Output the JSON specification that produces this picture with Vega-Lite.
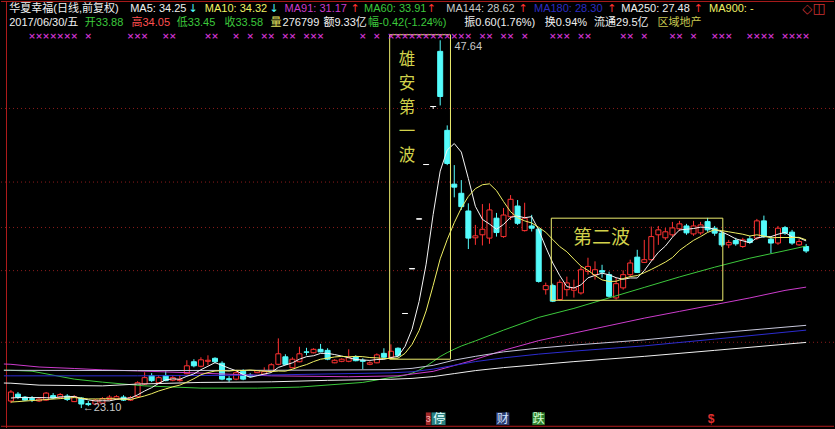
{
"$schema":"https://vega.github.io/schema/vega-lite/v6.json",
"width":835,"height":429,
"autosize":{"type":"fit","contains":"padding"},
"padding":0,
"background":"#000000",
"config":{"view":{"stroke":null}},
"data":{"values":[{}]},
"datasets":{
"k":[
{"d":0,"o":23.57,"h":24.30,"l":23.43,"c":24.17,"m5":23.77,"m10":23.50},
{"d":1,"o":24.03,"h":24.17,"l":23.70,"c":23.83,"m5":23.80,"m10":23.53},
{"d":2,"o":23.83,"h":23.90,"l":23.57,"c":23.63,"m5":23.80,"m10":23.57},
{"d":3,"o":23.73,"h":23.90,"l":23.50,"c":23.67,"m5":23.80,"m10":23.60},
{"d":4,"o":23.57,"h":23.77,"l":23.50,"c":23.70,"m5":23.80,"m10":23.63},
{"d":5,"o":23.63,"h":24.17,"l":23.57,"c":24.10,"m5":23.79,"m10":23.67},
{"d":6,"o":23.93,"h":24.10,"l":23.70,"c":23.77,"m5":23.77,"m10":23.70},
{"d":7,"o":23.80,"h":24.10,"l":23.77,"c":24.00,"m5":23.85,"m10":23.73},
{"d":8,"o":23.90,"h":24.03,"l":23.57,"c":23.67,"m5":23.85,"m10":23.77},
{"d":9,"o":23.53,"h":23.96,"l":23.50,"c":23.86,"m5":23.88,"m10":23.80},
{"d":10,"o":23.77,"h":23.83,"l":23.10,"c":23.37,"m5":23.73,"m10":23.76},
{"d":11,"o":23.40,"h":23.57,"l":23.23,"c":23.33,"m5":23.65,"m10":23.71},
{"d":12,"o":23.37,"h":23.70,"l":23.30,"c":23.63,"m5":23.57,"m10":23.71},
{"d":13,"o":23.43,"h":23.83,"l":23.37,"c":23.73,"m5":23.59,"m10":23.71},
{"d":14,"o":23.67,"h":23.96,"l":23.63,"c":23.83,"m5":23.58,"m10":23.73},
{"d":15,"o":23.70,"h":23.96,"l":23.63,"c":23.86,"m5":23.68,"m10":23.71},
{"d":16,"o":23.83,"h":23.96,"l":23.57,"c":23.63,"m5":23.74,"m10":23.69},
{"d":17,"o":23.63,"h":23.90,"l":23.57,"c":23.80,"m5":23.77,"m10":23.67},
{"d":18,"o":23.86,"h":24.89,"l":23.77,"c":24.79,"m5":23.98,"m10":23.79},
{"d":19,"o":24.70,"h":25.49,"l":24.63,"c":25.13,"m5":24.24,"m10":23.91},
{"d":20,"o":25.26,"h":25.43,"l":24.83,"c":24.93,"m5":24.46,"m10":24.06},
{"d":21,"o":24.79,"h":25.29,"l":24.76,"c":25.13,"m5":24.75,"m10":24.24},
{"d":22,"o":25.26,"h":25.56,"l":24.89,"c":24.93,"m5":24.98,"m10":24.38},
{"d":23,"o":24.96,"h":25.29,"l":24.89,"c":25.13,"m5":25.05,"m10":24.52},
{"d":24,"o":24.93,"h":25.29,"l":24.86,"c":24.99,"m5":25.02,"m10":24.63},
{"d":25,"o":25.39,"h":26.29,"l":25.36,"c":25.92,"m5":25.22,"m10":24.83},
{"d":26,"o":26.19,"h":26.36,"l":25.82,"c":25.92,"m5":25.38,"m10":25.06},
{"d":27,"o":25.89,"h":26.49,"l":25.82,"c":26.32,"m5":25.66,"m10":25.32},
{"d":28,"o":26.22,"h":26.62,"l":25.96,"c":26.29,"m5":25.89,"m10":25.47},
{"d":29,"o":26.42,"h":26.49,"l":26.09,"c":26.19,"m5":26.13,"m10":25.57},
{"d":30,"o":26.09,"h":26.22,"l":24.96,"c":25.03,"m5":25.95,"m10":25.59},
{"d":31,"o":25.06,"h":25.23,"l":24.83,"c":24.99,"m5":25.76,"m10":25.57},
{"d":32,"o":25.03,"h":25.56,"l":24.96,"c":25.46,"m5":25.59,"m10":25.62},
{"d":33,"o":25.56,"h":25.69,"l":24.96,"c":25.03,"m5":25.34,"m10":25.61},
{"d":34,"o":25.29,"h":25.43,"l":25.16,"c":25.23,"m5":25.15,"m10":25.64},
{"d":35,"o":25.46,"h":25.62,"l":25.43,"c":25.59,"m5":25.26,"m10":25.60},
{"d":36,"o":25.36,"h":25.82,"l":25.29,"c":25.53,"m5":25.37,"m10":25.56},
{"d":37,"o":25.56,"h":26.09,"l":25.49,"c":25.99,"m5":25.47,"m10":25.53},
{"d":38,"o":26.02,"h":27.75,"l":25.96,"c":26.72,"m5":25.81,"m10":25.57},
{"d":39,"o":26.52,"h":26.69,"l":25.96,"c":26.02,"m5":25.97,"m10":25.56},
{"d":40,"o":25.79,"h":26.49,"l":25.76,"c":26.36,"m5":26.12,"m10":25.69},
{"d":41,"o":26.19,"h":27.19,"l":26.16,"c":26.72,"m5":26.36,"m10":25.86},
{"d":42,"o":26.85,"h":27.12,"l":26.62,"c":26.82,"m5":26.53,"m10":26.00},
{"d":43,"o":26.79,"h":27.09,"l":26.75,"c":27.02,"m5":26.59,"m10":26.20},
{"d":44,"o":27.02,"h":27.38,"l":26.82,"c":26.85,"m5":26.75,"m10":26.36},
{"d":45,"o":26.95,"h":27.09,"l":26.29,"c":26.36,"m5":26.75,"m10":26.43},
{"d":46,"o":26.12,"h":26.36,"l":26.09,"c":26.29,"m5":26.67,"m10":26.51},
{"d":47,"o":26.22,"h":26.42,"l":26.16,"c":26.36,"m5":26.57,"m10":26.55},
{"d":48,"o":26.22,"h":27.02,"l":26.16,"c":26.46,"m5":26.46,"m10":26.52},
{"d":49,"o":26.52,"h":26.62,"l":26.22,"c":26.26,"m5":26.34,"m10":26.55},
{"d":50,"o":26.29,"h":26.42,"l":25.69,"c":26.22,"m5":26.31,"m10":26.53},
{"d":51,"o":26.02,"h":26.22,"l":25.96,"c":26.12,"m5":26.28,"m10":26.47},
{"d":52,"o":26.12,"h":26.75,"l":26.09,"c":26.65,"m5":26.34,"m10":26.45},
{"d":53,"o":26.75,"h":27.09,"l":26.42,"c":26.49,"m5":26.35,"m10":26.40},
{"d":54,"o":26.49,"h":27.35,"l":26.42,"c":26.89,"m5":26.47,"m10":26.41},
{"d":55,"o":27.09,"h":27.15,"l":26.49,"c":26.62,"m5":26.55,"m10":26.43},
{"d":56,"o":29.41,"h":29.41,"l":29.41,"c":29.41,"m5":27.21,"m10":26.75},
{"d":57,"o":32.40,"h":32.40,"l":32.40,"c":32.40,"m5":28.36,"m10":27.35},
{"d":58,"o":35.72,"h":35.72,"l":35.72,"c":35.72,"m5":30.21,"m10":28.27},
{"d":59,"o":39.35,"h":39.35,"l":39.35,"c":39.35,"m5":32.70,"m10":29.58},
{"d":60,"o":43.22,"h":43.22,"l":43.06,"c":43.22,"m5":36.02,"m10":31.28},
{"d":61,"o":46.90,"h":47.64,"l":43.29,"c":43.89,"m5":38.91,"m10":33.06},
{"d":62,"o":41.63,"h":41.96,"l":39.31,"c":39.42,"m5":40.32,"m10":34.34},
{"d":63,"o":38.04,"h":39.31,"l":37.16,"c":37.84,"m5":40.75,"m10":35.47},
{"d":64,"o":37.43,"h":38.31,"l":36.32,"c":36.54,"m5":40.18,"m10":36.44},
{"d":65,"o":36.25,"h":36.76,"l":33.71,"c":34.44,"m5":38.42,"m10":37.22},
{"d":66,"o":34.46,"h":35.32,"l":33.99,"c":34.59,"m5":36.56,"m10":37.74},
{"d":67,"o":34.66,"h":36.71,"l":33.95,"c":35.03,"m5":35.69,"m10":38.00},
{"d":68,"o":34.44,"h":36.76,"l":34.06,"c":36.32,"m5":35.38,"m10":38.06},
{"d":69,"o":35.77,"h":36.12,"l":34.54,"c":34.81,"m5":35.03,"m10":37.61},
{"d":70,"o":34.54,"h":36.45,"l":34.46,"c":35.98,"m5":35.35,"m10":36.88},
{"d":71,"o":35.87,"h":37.31,"l":35.65,"c":37.03,"m5":35.83,"m10":36.20},
{"d":72,"o":36.58,"h":36.98,"l":35.32,"c":35.43,"m5":35.91,"m10":35.80},
{"d":73,"o":34.94,"h":36.80,"l":34.88,"c":35.77,"m5":35.80,"m10":35.59},
{"d":74,"o":35.25,"h":35.99,"l":34.88,"c":35.10,"m5":35.87,"m10":35.45},
{"d":75,"o":35.03,"h":35.12,"l":31.47,"c":31.55,"m5":34.98,"m10":35.16},
{"d":76,"o":31.00,"h":31.47,"l":30.67,"c":31.27,"m5":33.83,"m10":34.83},
{"d":77,"o":31.27,"h":31.40,"l":30.17,"c":30.23,"m5":32.78,"m10":34.34},
{"d":78,"o":30.34,"h":31.67,"l":30.27,"c":31.49,"m5":31.93,"m10":33.87},
{"d":79,"o":31.00,"h":31.87,"l":30.56,"c":31.45,"m5":31.20,"m10":33.53},
{"d":80,"o":30.96,"h":31.67,"l":30.47,"c":31.12,"m5":31.11,"m10":33.04},
{"d":81,"o":30.78,"h":32.55,"l":30.67,"c":32.33,"m5":31.32,"m10":32.57},
{"d":82,"o":32.22,"h":33.13,"l":32.00,"c":32.55,"m5":31.79,"m10":32.29},
{"d":83,"o":32.00,"h":32.89,"l":31.67,"c":32.33,"m5":31.95,"m10":31.94},
{"d":84,"o":32.27,"h":32.66,"l":31.80,"c":32.17,"m5":32.10,"m10":31.65},
{"d":85,"o":32.00,"h":32.20,"l":30.47,"c":30.56,"m5":31.99,"m10":31.55},
{"d":86,"o":30.45,"h":31.80,"l":30.34,"c":31.40,"m5":31.80,"m10":31.56},
{"d":87,"o":31.12,"h":32.29,"l":31.00,"c":32.00,"m5":31.69,"m10":31.74},
{"d":88,"o":32.00,"h":33.00,"l":31.85,"c":32.78,"m5":31.78,"m10":31.87},
{"d":89,"o":33.17,"h":33.66,"l":32.11,"c":32.15,"m5":31.78,"m10":31.94},
{"d":90,"o":32.82,"h":34.32,"l":32.78,"c":33.00,"m5":32.27,"m10":32.13},
{"d":91,"o":33.00,"h":35.21,"l":32.93,"c":34.54,"m5":32.90,"m10":32.35},
{"d":92,"o":34.66,"h":35.25,"l":33.99,"c":34.99,"m5":33.49,"m10":32.59},
{"d":93,"o":34.46,"h":35.12,"l":34.32,"c":34.86,"m5":33.91,"m10":32.84},
{"d":94,"o":34.66,"h":35.52,"l":34.53,"c":35.12,"m5":34.50,"m10":33.14},
{"d":95,"o":35.06,"h":35.59,"l":34.92,"c":35.39,"m5":34.98,"m10":33.62},
{"d":96,"o":35.25,"h":35.39,"l":34.66,"c":34.79,"m5":35.03,"m10":33.96},
{"d":97,"o":34.72,"h":35.59,"l":34.59,"c":35.25,"m5":35.08,"m10":34.29},
{"d":98,"o":34.79,"h":35.52,"l":34.66,"c":35.32,"m5":35.17,"m10":34.54},
{"d":99,"o":35.54,"h":35.79,"l":34.86,"c":34.99,"m5":35.15,"m10":34.82},
{"d":100,"o":35.10,"h":35.25,"l":34.59,"c":34.77,"m5":35.02,"m10":35.00},
{"d":101,"o":34.77,"h":34.92,"l":33.86,"c":33.99,"m5":34.86,"m10":34.94},
{"d":102,"o":33.99,"h":34.32,"l":33.77,"c":34.15,"m5":34.64,"m10":34.86},
{"d":103,"o":34.28,"h":34.46,"l":33.93,"c":34.06,"m5":34.39,"m10":34.78},
{"d":104,"o":33.88,"h":34.46,"l":33.79,"c":34.32,"m5":34.26,"m10":34.70},
{"d":105,"o":34.39,"h":34.59,"l":34.06,"c":34.15,"m5":34.13,"m10":34.58},
{"d":106,"o":34.44,"h":35.72,"l":34.32,"c":35.59,"m5":34.45,"m10":34.66},
{"d":107,"o":35.59,"h":35.94,"l":34.46,"c":34.54,"m5":34.53,"m10":34.58},
{"d":108,"o":34.37,"h":34.52,"l":33.44,"c":34.11,"m5":34.54,"m10":34.46},
{"d":109,"o":34.11,"h":35.25,"l":33.99,"c":35.10,"m5":34.70,"m10":34.48},
{"d":110,"o":35.14,"h":35.25,"l":34.66,"c":34.77,"m5":34.82,"m10":34.48},
{"d":111,"o":34.84,"h":34.99,"l":33.99,"c":34.11,"m5":34.52,"m10":34.48},
{"d":112,"o":33.99,"h":34.37,"l":33.93,"c":34.21,"m5":34.46,"m10":34.49},
{"d":113,"o":33.88,"h":34.05,"l":33.45,"c":33.58,"m5":34.25,"m10":34.32}
],
"lma":[
{"m":"MA60","d":-1,"v":25.63},{"m":"MA60","d":0,"v":25.62},{"m":"MA60","d":3,"v":25.56},{"m":"MA60","d":9,"v":25.03},{"m":"MA60","d":13,"v":24.83},{"m":"MA60","d":19,"v":24.58},{"m":"MA60","d":27,"v":24.43},{"m":"MA60","d":35,"v":24.43},{"m":"MA60","d":41,"v":24.50},{"m":"MA60","d":50,"v":24.81},{"m":"MA60","d":54,"v":25.14},{"m":"MA60","d":55,"v":25.20},{"m":"MA60","d":56,"v":25.29},{"m":"MA60","d":57,"v":25.43},{"m":"MA60","d":58,"v":25.63},{"m":"MA60","d":59,"v":25.89},{"m":"MA60","d":60,"v":26.21},{"m":"MA60","d":61,"v":26.54},{"m":"MA60","d":62,"v":26.80},{"m":"MA60","d":63,"v":27.03},{"m":"MA60","d":64,"v":27.24},{"m":"MA60","d":65,"v":27.41},{"m":"MA60","d":66,"v":27.58},{"m":"MA60","d":70,"v":28.30},{"m":"MA60","d":75,"v":29.15},{"m":"MA60","d":80,"v":29.75},{"m":"MA60","d":85,"v":30.45},{"m":"MA60","d":90,"v":31.15},{"m":"MA60","d":95,"v":31.85},{"m":"MA60","d":100,"v":32.50},{"m":"MA60","d":105,"v":33.10},{"m":"MA60","d":110,"v":33.60},{"m":"MA60","d":113,"v":33.91},
{"m":"MA91","d":-1,"v":26.04},{"m":"MA91","d":0,"v":26.02},{"m":"MA91","d":4,"v":25.84},{"m":"MA91","d":9,"v":25.74},{"m":"MA91","d":13,"v":25.65},{"m":"MA91","d":18,"v":25.58},{"m":"MA91","d":27,"v":25.43},{"m":"MA91","d":37,"v":25.25},{"m":"MA91","d":48,"v":25.19},{"m":"MA91","d":55,"v":25.25},{"m":"MA91","d":60,"v":25.55},{"m":"MA91","d":65,"v":26.20},{"m":"MA91","d":70,"v":26.95},{"m":"MA91","d":75,"v":27.60},{"m":"MA91","d":80,"v":28.10},{"m":"MA91","d":85,"v":28.60},{"m":"MA91","d":90,"v":29.10},{"m":"MA91","d":95,"v":29.55},{"m":"MA91","d":100,"v":30.00},{"m":"MA91","d":105,"v":30.45},{"m":"MA91","d":110,"v":30.95},{"m":"MA91","d":113,"v":31.17},
{"m":"MA144","d":-1,"v":25.62},{"m":"MA144","d":0,"v":25.62},{"m":"MA144","d":18,"v":25.60},{"m":"MA144","d":36,"v":25.62},{"m":"MA144","d":54,"v":25.66},{"m":"MA144","d":57,"v":25.75},{"m":"MA144","d":60,"v":25.95},{"m":"MA144","d":63,"v":26.30},{"m":"MA144","d":66,"v":26.55},{"m":"MA144","d":70,"v":26.85},{"m":"MA144","d":75,"v":27.10},{"m":"MA144","d":80,"v":27.30},{"m":"MA144","d":90,"v":27.65},{"m":"MA144","d":100,"v":28.10},{"m":"MA144","d":113,"v":28.62},
{"m":"MA180","d":-1,"v":25.25},{"m":"MA180","d":0,"v":25.25},{"m":"MA180","d":18,"v":25.25},{"m":"MA180","d":36,"v":25.30},{"m":"MA180","d":54,"v":25.45},{"m":"MA180","d":57,"v":25.52},{"m":"MA180","d":60,"v":25.70},{"m":"MA180","d":63,"v":25.95},{"m":"MA180","d":66,"v":26.20},{"m":"MA180","d":70,"v":26.45},{"m":"MA180","d":75,"v":26.70},{"m":"MA180","d":80,"v":26.90},{"m":"MA180","d":90,"v":27.25},{"m":"MA180","d":100,"v":27.70},{"m":"MA180","d":113,"v":28.30},
{"m":"MA250","d":-1,"v":24.77},{"m":"MA250","d":0,"v":24.76},{"m":"MA250","d":4,"v":24.63},{"m":"MA250","d":13,"v":24.58},{"m":"MA250","d":18,"v":24.70},{"m":"MA250","d":27,"v":24.81},{"m":"MA250","d":37,"v":24.85},{"m":"MA250","d":45,"v":24.95},{"m":"MA250","d":54,"v":25.02},{"m":"MA250","d":57,"v":25.08},{"m":"MA250","d":60,"v":25.20},{"m":"MA250","d":63,"v":25.40},{"m":"MA250","d":66,"v":25.60},{"m":"MA250","d":70,"v":25.80},{"m":"MA250","d":75,"v":26.00},{"m":"MA250","d":80,"v":26.20},{"m":"MA250","d":90,"v":26.55},{"m":"MA250","d":100,"v":26.95},{"m":"MA250","d":113,"v":27.48}
],
"grid":[{"g":43.09},{"g":38.18},{"g":35.15},{"g":32.27},{"g":27.49}],
"xm":[{"d":3},{"d":4},{"d":5},{"d":6},{"d":7},{"d":8},{"d":9},{"d":11},{"d":17},{"d":18},{"d":19},{"d":22},{"d":23},{"d":28},{"d":29},{"d":32},{"d":34},{"d":36},{"d":37},{"d":39},{"d":40},{"d":42},{"d":43},{"d":44},{"d":50},{"d":52},{"d":54},{"d":55},{"d":56},{"d":57},{"d":58},{"d":59},{"d":60},{"d":61},{"d":62},{"d":63},{"d":64},{"d":65},{"d":67},{"d":68},{"d":70},{"d":71},{"d":73},{"d":77},{"d":78},{"d":79},{"d":81},{"d":82},{"d":87},{"d":88},{"d":90},{"d":94},{"d":95},{"d":97},{"d":100},{"d":101},{"d":102},{"d":105},{"d":106},{"d":107},{"d":108},{"d":110},{"d":111},{"d":112},{"d":113}]
},
"layer":[
{"data":{"name":"grid"},"mark":{"type":"rule","color":"#8c1c1c","strokeDash":[1,3],"strokeWidth":1},
 "encoding":{"y":{"field":"g","type":"quantitative","scale":{"domain":[21.77,50.26],"nice":false,"zero":false},"axis":null}}},
{"mark":{"type":"rule","color":"#b01c1c","strokeWidth":1},"encoding":{"y":{"datum":50.23,"type":"quantitative","scale":{"domain":[21.77,50.26],"nice":false,"zero":false},"axis":null}}},
{"mark":{"type":"rule","color":"#b01c1c","strokeWidth":1},"encoding":{"y":{"datum":21.885,"type":"quantitative","scale":{"domain":[21.77,50.26],"nice":false,"zero":false},"axis":null}}},
{"mark":{"type":"rule","color":"#b01c1c","strokeWidth":1},"encoding":{"x":{"datum":-0.63,"type":"quantitative","scale":{"domain":[-0.7,116.25],"nice":false,"zero":false},"axis":null}}},
{"data":{"name":"k"},"mark":{"type":"rule","strokeWidth":1},
 "encoding":{"x":{"field":"d","type":"quantitative","scale":{"domain":[-0.7,116.25],"nice":false,"zero":false},"axis":null},
  "y":{"field":"l","type":"quantitative","scale":{"domain":[21.77,50.26],"nice":false,"zero":false},"axis":null},"y2":{"field":"h"},
  "color":{"condition":[{"test":"datum.c > datum.o","value":"#ff3232"},{"test":"datum.c < datum.o","value":"#54fcfc"}],"value":"#ffffff"}}},
{"data":{"name":"k"},"mark":{"type":"bar","width":5,"strokeWidth":1},
 "encoding":{"x":{"field":"d","type":"quantitative","scale":{"domain":[-0.7,116.25],"nice":false,"zero":false},"axis":null},
  "y":{"field":"o","type":"quantitative","scale":{"domain":[21.77,50.26],"nice":false,"zero":false},"axis":null},"y2":{"field":"c"},
  "fill":{"condition":[{"test":"datum.c > datum.o","value":"#000000"},{"test":"datum.c < datum.o","value":"#54fcfc"}],"value":"#ffffff"},
  "stroke":{"condition":[{"test":"datum.c > datum.o","value":"#ff3232"},{"test":"datum.c < datum.o","value":"#54fcfc"}],"value":"#ffffff"}}},
{"data":{"name":"k"},"transform":[{"filter":"datum.o == datum.c"}],"mark":{"type":"tick","orient":"horizontal","thickness":1,"size":6,"color":"#ffffff"},
 "encoding":{"x":{"field":"d","type":"quantitative","scale":{"domain":[-0.7,116.25],"nice":false,"zero":false},"axis":null},
  "y":{"field":"c","type":"quantitative","scale":{"domain":[21.77,50.26],"nice":false,"zero":false},"axis":null}}},
{"data":{"name":"lma"},"mark":{"type":"line","strokeWidth":1,"clip":true},
 "encoding":{"x":{"field":"d","type":"quantitative","scale":{"domain":[-0.7,116.25],"nice":false,"zero":false},"axis":null},
  "y":{"field":"v","type":"quantitative","scale":{"domain":[21.77,50.26],"nice":false,"zero":false},"axis":null},
  "color":{"field":"m","type":"nominal","scale":{"domain":["MA60","MA91","MA144","MA180","MA250"],"range":["#3cc83c","#cc3ccc","#c8c8dc","#2c2cd0","#f0f0f0"]},"legend":null}}},
{"data":{"name":"k"},"mark":{"type":"line","strokeWidth":1,"color":"#f5f5f5"},
 "encoding":{"x":{"field":"d","type":"quantitative","scale":{"domain":[-0.7,116.25],"nice":false,"zero":false},"axis":null},
  "y":{"field":"m5","type":"quantitative","scale":{"domain":[21.77,50.26],"nice":false,"zero":false},"axis":null}}},
{"data":{"name":"k"},"mark":{"type":"line","strokeWidth":1,"color":"#f0f064"},
 "encoding":{"x":{"field":"d","type":"quantitative","scale":{"domain":[-0.7,116.25],"nice":false,"zero":false},"axis":null},
  "y":{"field":"m10","type":"quantitative","scale":{"domain":[21.77,50.26],"nice":false,"zero":false},"axis":null}}},
{"mark":{"type":"rect","fillOpacity":0,"stroke":"#eded6e","strokeWidth":1},
 "encoding":{"x":{"datum":53.82,"type":"quantitative","scale":{"domain":[-0.7,116.25],"nice":false,"zero":false},"axis":null},"x2":{"datum":62.46},
  "y":{"datum":48.01,"type":"quantitative","scale":{"domain":[21.77,50.26],"nice":false,"zero":false},"axis":null},"y2":{"datum":26.36}}},
{"mark":{"type":"rect","fillOpacity":0,"stroke":"#eded6e","strokeWidth":1},
 "encoding":{"x":{"datum":76.79,"type":"quantitative","scale":{"domain":[-0.7,116.25],"nice":false,"zero":false},"axis":null},"x2":{"datum":101.16},
  "y":{"datum":35.77,"type":"quantitative","scale":{"domain":[21.77,50.26],"nice":false,"zero":false},"axis":null},"y2":{"datum":30.29}}},
{"mark":{"type":"text","align":"center","baseline":"top","fontSize":16.5,"lineHeight":24,"font":"Noto Sans CJK SC","color":"#d2d24b"},
 "encoding":{"x":{"datum":56.3,"type":"quantitative","scale":{"domain":[-0.7,116.25],"nice":false,"zero":false},"axis":null},
  "y":{"datum":46.88,"type":"quantitative","scale":{"domain":[21.77,50.26],"nice":false,"zero":false},"axis":null},
  "text":{"value":["雄","安","第","一","波"]}}},
{"mark":{"type":"text","align":"center","baseline":"middle","fontSize":19,"font":"Noto Sans CJK SC","color":"#d2d24b"},
 "encoding":{"x":{"datum":83.92,"type":"quantitative","scale":{"domain":[-0.7,116.25],"nice":false,"zero":false},"axis":null},
  "y":{"datum":34.44,"type":"quantitative","scale":{"domain":[21.77,50.26],"nice":false,"zero":false},"axis":null},
  "text":{"value":"第二波"}}},
{"data":{"name":"xm"},"mark":{"type":"text","align":"center","baseline":"middle","fontSize":9,"fontWeight":"bold","font":"DejaVu Sans","color":"#cc33cc"},
 "encoding":{"x":{"field":"d","type":"quantitative","scale":{"domain":[-0.7,116.25],"nice":false,"zero":false},"axis":null},
  "y":{"datum":47.94,"type":"quantitative","scale":{"domain":[21.77,50.26],"nice":false,"zero":false},"axis":null},
  "text":{"value":"×"}}},
{"mark":{"type":"text","align":"left","baseline":"middle","fontSize":11,"font":"Liberation Sans","color":"#c8c8c8"},
 "encoding":{"x":{"datum":63.03,"type":"quantitative","scale":{"domain":[-0.7,116.25],"nice":false,"zero":false},"axis":null},
  "y":{"datum":47.20,"type":"quantitative","scale":{"domain":[21.77,50.26],"nice":false,"zero":false},"axis":null},"text":{"value":"47.64"}}},
{"mark":{"type":"text","align":"left","baseline":"middle","fontSize":11,"font":"Liberation Sans","color":"#c8c8c8"},
 "encoding":{"x":{"datum":10.22,"type":"quantitative","scale":{"domain":[-0.7,116.25],"nice":false,"zero":false},"axis":null},
  "y":{"datum":23.10,"type":"quantitative","scale":{"domain":[21.77,50.26],"nice":false,"zero":false},"axis":null},"text":{"value":"←23.10"}}},
{"mark":{"type":"text","align":"left","baseline":"middle","fontSize":11,"font":"Liberation Sans, Noto Sans CJK SC","color":"#f0f0f0"},"encoding":{"x":{"datum":-0.24,"type":"quantitative","scale":{"domain":[-0.7,116.25],"nice":false,"zero":false},"axis":null},"y":{"datum":49.70,"type":"quantitative","scale":{"domain":[21.77,50.26],"nice":false,"zero":false},"axis":null},"text":{"value":"华夏幸福(日线,前复权)"}}},
{"mark":{"type":"text","align":"left","baseline":"middle","fontSize":11,"font":"Liberation Sans, Noto Sans CJK SC","color":"#f0f0f0"},"encoding":{"x":{"datum":16.95,"type":"quantitative","scale":{"domain":[-0.7,116.25],"nice":false,"zero":false},"axis":null},"y":{"datum":49.70,"type":"quantitative","scale":{"domain":[21.77,50.26],"nice":false,"zero":false},"axis":null},"text":{"value":"MA5: 34.25"}}},
{"mark":{"type":"text","align":"center","baseline":"middle","fontSize":11,"font":"DejaVu Sans","color":"#54fcfc"},"encoding":{"x":{"datum":25.9,"type":"quantitative","scale":{"domain":[-0.7,116.25],"nice":false,"zero":false},"axis":null},"y":{"datum":49.70,"type":"quantitative","scale":{"domain":[21.77,50.26],"nice":false,"zero":false},"axis":null},"text":{"value":"↓"}}},
{"mark":{"type":"text","align":"left","baseline":"middle","fontSize":11,"font":"Liberation Sans, Noto Sans CJK SC","color":"#f0f064"},"encoding":{"x":{"datum":27.55,"type":"quantitative","scale":{"domain":[-0.7,116.25],"nice":false,"zero":false},"axis":null},"y":{"datum":49.70,"type":"quantitative","scale":{"domain":[21.77,50.26],"nice":false,"zero":false},"axis":null},"text":{"value":"MA10: 34.32"}}},
{"mark":{"type":"text","align":"center","baseline":"middle","fontSize":11,"font":"DejaVu Sans","color":"#54fcfc"},"encoding":{"x":{"datum":37.4,"type":"quantitative","scale":{"domain":[-0.7,116.25],"nice":false,"zero":false},"axis":null},"y":{"datum":49.70,"type":"quantitative","scale":{"domain":[21.77,50.26],"nice":false,"zero":false},"axis":null},"text":{"value":"↓"}}},
{"mark":{"type":"text","align":"left","baseline":"middle","fontSize":11,"font":"Liberation Sans, Noto Sans CJK SC","color":"#cc3ccc"},"encoding":{"x":{"datum":38.89,"type":"quantitative","scale":{"domain":[-0.7,116.25],"nice":false,"zero":false},"axis":null},"y":{"datum":49.70,"type":"quantitative","scale":{"domain":[21.77,50.26],"nice":false,"zero":false},"axis":null},"text":{"value":"MA91: 31.17"}}},
{"mark":{"type":"text","align":"center","baseline":"middle","fontSize":11,"font":"DejaVu Sans","color":"#ff3232"},"encoding":{"x":{"datum":48.9,"type":"quantitative","scale":{"domain":[-0.7,116.25],"nice":false,"zero":false},"axis":null},"y":{"datum":49.70,"type":"quantitative","scale":{"domain":[21.77,50.26],"nice":false,"zero":false},"axis":null},"text":{"value":"↑"}}},
{"mark":{"type":"text","align":"left","baseline":"middle","fontSize":11,"font":"Liberation Sans, Noto Sans CJK SC","color":"#3cc83c"},"encoding":{"x":{"datum":50.18,"type":"quantitative","scale":{"domain":[-0.7,116.25],"nice":false,"zero":false},"axis":null},"y":{"datum":49.70,"type":"quantitative","scale":{"domain":[21.77,50.26],"nice":false,"zero":false},"axis":null},"text":{"value":"MA60: 33.91"}}},
{"mark":{"type":"text","align":"center","baseline":"middle","fontSize":11,"font":"DejaVu Sans","color":"#ff3232"},"encoding":{"x":{"datum":59.75,"type":"quantitative","scale":{"domain":[-0.7,116.25],"nice":false,"zero":false},"axis":null},"y":{"datum":49.70,"type":"quantitative","scale":{"domain":[21.77,50.26],"nice":false,"zero":false},"axis":null},"text":{"value":"↑"}}},
{"mark":{"type":"text","align":"left","baseline":"middle","fontSize":11,"font":"Liberation Sans, Noto Sans CJK SC","color":"#c8c8c8"},"encoding":{"x":{"datum":61.86,"type":"quantitative","scale":{"domain":[-0.7,116.25],"nice":false,"zero":false},"axis":null},"y":{"datum":49.70,"type":"quantitative","scale":{"domain":[21.77,50.26],"nice":false,"zero":false},"axis":null},"text":{"value":"MA144: 28.62"}}},
{"mark":{"type":"text","align":"center","baseline":"middle","fontSize":11,"font":"DejaVu Sans","color":"#ff3232"},"encoding":{"x":{"datum":72.8,"type":"quantitative","scale":{"domain":[-0.7,116.25],"nice":false,"zero":false},"axis":null},"y":{"datum":49.70,"type":"quantitative","scale":{"domain":[21.77,50.26],"nice":false,"zero":false},"axis":null},"text":{"value":"↑"}}},
{"mark":{"type":"text","align":"left","baseline":"middle","fontSize":11,"font":"Liberation Sans, Noto Sans CJK SC","color":"#2c2cc0"},"encoding":{"x":{"datum":74.33,"type":"quantitative","scale":{"domain":[-0.7,116.25],"nice":false,"zero":false},"axis":null},"y":{"datum":49.70,"type":"quantitative","scale":{"domain":[21.77,50.26],"nice":false,"zero":false},"axis":null},"text":{"value":"MA180: 28.30"}}},
{"mark":{"type":"text","align":"center","baseline":"middle","fontSize":11,"font":"DejaVu Sans","color":"#ff3232"},"encoding":{"x":{"datum":85.4,"type":"quantitative","scale":{"domain":[-0.7,116.25],"nice":false,"zero":false},"axis":null},"y":{"datum":49.70,"type":"quantitative","scale":{"domain":[21.77,50.26],"nice":false,"zero":false},"axis":null},"text":{"value":"↑"}}},
{"mark":{"type":"text","align":"left","baseline":"middle","fontSize":11,"font":"Liberation Sans, Noto Sans CJK SC","color":"#f0f0f0"},"encoding":{"x":{"datum":86.74,"type":"quantitative","scale":{"domain":[-0.7,116.25],"nice":false,"zero":false},"axis":null},"y":{"datum":49.70,"type":"quantitative","scale":{"domain":[21.77,50.26],"nice":false,"zero":false},"axis":null},"text":{"value":"MA250: 27.48"}}},
{"mark":{"type":"text","align":"center","baseline":"middle","fontSize":11,"font":"DejaVu Sans","color":"#ff3232"},"encoding":{"x":{"datum":97.7,"type":"quantitative","scale":{"domain":[-0.7,116.25],"nice":false,"zero":false},"axis":null},"y":{"datum":49.70,"type":"quantitative","scale":{"domain":[21.77,50.26],"nice":false,"zero":false},"axis":null},"text":{"value":"↑"}}},
{"mark":{"type":"text","align":"left","baseline":"middle","fontSize":11,"font":"Liberation Sans, Noto Sans CJK SC","color":"#f0f064"},"encoding":{"x":{"datum":99.2,"type":"quantitative","scale":{"domain":[-0.7,116.25],"nice":false,"zero":false},"axis":null},"y":{"datum":49.70,"type":"quantitative","scale":{"domain":[21.77,50.26],"nice":false,"zero":false},"axis":null},"text":{"value":"MA900: -"}}},
{"mark":{"type":"text","align":"center","baseline":"middle","fontSize":13,"font":"DejaVu Sans","color":"#c83232"},"encoding":{"x":{"datum":113.16,"type":"quantitative","scale":{"domain":[-0.7,116.25],"nice":false,"zero":false},"axis":null},"y":{"datum":49.70,"type":"quantitative","scale":{"domain":[21.77,50.26],"nice":false,"zero":false},"axis":null},"text":{"value":"◇"}}},
{"mark":{"type":"text","align":"center","baseline":"middle","fontSize":14,"font":"DejaVu Sans","color":"#c83232"},"encoding":{"x":{"datum":114.85,"type":"quantitative","scale":{"domain":[-0.7,116.25],"nice":false,"zero":false},"axis":null},"y":{"datum":49.70,"type":"quantitative","scale":{"domain":[21.77,50.26],"nice":false,"zero":false},"axis":null},"text":{"value":"◫"}}},
{"mark":{"type":"text","align":"left","baseline":"middle","fontSize":11,"font":"Liberation Sans, Noto Sans CJK SC","color":"#f0f0f0"},"encoding":{"x":{"datum":-0.24,"type":"quantitative","scale":{"domain":[-0.7,116.25],"nice":false,"zero":false},"axis":null},"y":{"datum":48.77,"type":"quantitative","scale":{"domain":[21.77,50.26],"nice":false,"zero":false},"axis":null},"text":{"value":"2017/06/30/五"}}},
{"mark":{"type":"text","align":"left","baseline":"middle","fontSize":11,"font":"Liberation Sans, Noto Sans CJK SC","color":"#3cc83c"},"encoding":{"x":{"datum":10.5,"type":"quantitative","scale":{"domain":[-0.7,116.25],"nice":false,"zero":false},"axis":null},"y":{"datum":48.77,"type":"quantitative","scale":{"domain":[21.77,50.26],"nice":false,"zero":false},"axis":null},"text":{"value":"开33.88"}}},
{"mark":{"type":"text","align":"left","baseline":"middle","fontSize":11,"font":"Liberation Sans, Noto Sans CJK SC","color":"#ff5050"},"encoding":{"x":{"datum":17.13,"type":"quantitative","scale":{"domain":[-0.7,116.25],"nice":false,"zero":false},"axis":null},"y":{"datum":48.77,"type":"quantitative","scale":{"domain":[21.77,50.26],"nice":false,"zero":false},"axis":null},"text":{"value":"高34.05"}}},
{"mark":{"type":"text","align":"left","baseline":"middle","fontSize":11,"font":"Liberation Sans, Noto Sans CJK SC","color":"#3cc83c"},"encoding":{"x":{"datum":23.57,"type":"quantitative","scale":{"domain":[-0.7,116.25],"nice":false,"zero":false},"axis":null},"y":{"datum":48.77,"type":"quantitative","scale":{"domain":[21.77,50.26],"nice":false,"zero":false},"axis":null},"text":{"value":"低33.45"}}},
{"mark":{"type":"text","align":"left","baseline":"middle","fontSize":11,"font":"Liberation Sans, Noto Sans CJK SC","color":"#3cc83c"},"encoding":{"x":{"datum":30.35,"type":"quantitative","scale":{"domain":[-0.7,116.25],"nice":false,"zero":false},"axis":null},"y":{"datum":48.77,"type":"quantitative","scale":{"domain":[21.77,50.26],"nice":false,"zero":false},"axis":null},"text":{"value":"收33.58"}}},
{"mark":{"type":"text","align":"left","baseline":"middle","fontSize":11,"font":"Liberation Sans, Noto Sans CJK SC","color":"#e0e060"},"encoding":{"x":{"datum":36.88,"type":"quantitative","scale":{"domain":[-0.7,116.25],"nice":false,"zero":false},"axis":null},"y":{"datum":48.77,"type":"quantitative","scale":{"domain":[21.77,50.26],"nice":false,"zero":false},"axis":null},"text":{"value":"量"}}},
{"mark":{"type":"text","align":"left","baseline":"middle","fontSize":11,"font":"Liberation Sans, Noto Sans CJK SC","color":"#f0f0f0"},"encoding":{"x":{"datum":38.6,"type":"quantitative","scale":{"domain":[-0.7,116.25],"nice":false,"zero":false},"axis":null},"y":{"datum":48.77,"type":"quantitative","scale":{"domain":[21.77,50.26],"nice":false,"zero":false},"axis":null},"text":{"value":"276799"}}},
{"mark":{"type":"text","align":"left","baseline":"middle","fontSize":11,"font":"Liberation Sans, Noto Sans CJK SC","color":"#f0f0f0"},"encoding":{"x":{"datum":44.4,"type":"quantitative","scale":{"domain":[-0.7,116.25],"nice":false,"zero":false},"axis":null},"y":{"datum":48.77,"type":"quantitative","scale":{"domain":[21.77,50.26],"nice":false,"zero":false},"axis":null},"text":{"value":"额9.33亿"}}},
{"mark":{"type":"text","align":"left","baseline":"middle","fontSize":11,"font":"Liberation Sans, Noto Sans CJK SC","color":"#3cc83c"},"encoding":{"x":{"datum":50.75,"type":"quantitative","scale":{"domain":[-0.7,116.25],"nice":false,"zero":false},"axis":null},"y":{"datum":48.77,"type":"quantitative","scale":{"domain":[21.77,50.26],"nice":false,"zero":false},"axis":null},"text":{"value":"幅-0.42(-1.24%)"}}},
{"mark":{"type":"text","align":"left","baseline":"middle","fontSize":11,"font":"Liberation Sans, Noto Sans CJK SC","color":"#f0f0f0"},"encoding":{"x":{"datum":64.43,"type":"quantitative","scale":{"domain":[-0.7,116.25],"nice":false,"zero":false},"axis":null},"y":{"datum":48.77,"type":"quantitative","scale":{"domain":[21.77,50.26],"nice":false,"zero":false},"axis":null},"text":{"value":"振0.60(1.76%)"}}},
{"mark":{"type":"text","align":"left","baseline":"middle","fontSize":11,"font":"Liberation Sans, Noto Sans CJK SC","color":"#f0f0f0"},"encoding":{"x":{"datum":75.87,"type":"quantitative","scale":{"domain":[-0.7,116.25],"nice":false,"zero":false},"axis":null},"y":{"datum":48.77,"type":"quantitative","scale":{"domain":[21.77,50.26],"nice":false,"zero":false},"axis":null},"text":{"value":"换0.94%"}}},
{"mark":{"type":"text","align":"left","baseline":"middle","fontSize":11,"font":"Liberation Sans, Noto Sans CJK SC","color":"#f0f0f0"},"encoding":{"x":{"datum":82.87,"type":"quantitative","scale":{"domain":[-0.7,116.25],"nice":false,"zero":false},"axis":null},"y":{"datum":48.77,"type":"quantitative","scale":{"domain":[21.77,50.26],"nice":false,"zero":false},"axis":null},"text":{"value":"流通29.5亿"}}},
{"mark":{"type":"text","align":"left","baseline":"middle","fontSize":11,"font":"Liberation Sans, Noto Sans CJK SC","color":"#c8c850"},"encoding":{"x":{"datum":91.88,"type":"quantitative","scale":{"domain":[-0.7,116.25],"nice":false,"zero":false},"axis":null},"y":{"datum":48.77,"type":"quantitative","scale":{"domain":[21.77,50.26],"nice":false,"zero":false},"axis":null},"text":{"value":"区域地产"}}},
{"mark":{"type":"rect","fill":"#a02828"},"encoding":{"x":{"datum":58.96,"type":"quantitative","scale":{"domain":[-0.7,116.25],"nice":false,"zero":false},"axis":null},"x2":{"datum":59.66},"y":{"datum":22.81,"type":"quantitative","scale":{"domain":[21.77,50.26],"nice":false,"zero":false},"axis":null},"y2":{"datum":21.97}}},
{"mark":{"type":"rect","fill":"#2a8080"},"encoding":{"x":{"datum":59.76,"type":"quantitative","scale":{"domain":[-0.7,116.25],"nice":false,"zero":false},"axis":null},"x2":{"datum":61.76},"y":{"datum":22.81,"type":"quantitative","scale":{"domain":[21.77,50.26],"nice":false,"zero":false},"axis":null},"y2":{"datum":21.97}}},
{"mark":{"type":"rect","fill":"#2a3c70"},"encoding":{"x":{"datum":68.95,"type":"quantitative","scale":{"domain":[-0.7,116.25],"nice":false,"zero":false},"axis":null},"x2":{"datum":70.83},"y":{"datum":22.81,"type":"quantitative","scale":{"domain":[21.77,50.26],"nice":false,"zero":false},"axis":null},"y2":{"datum":21.97}}},
{"mark":{"type":"rect","fill":"#2f7f2f"},"encoding":{"x":{"datum":74.09,"type":"quantitative","scale":{"domain":[-0.7,116.25],"nice":false,"zero":false},"axis":null},"x2":{"datum":75.87},"y":{"datum":22.81,"type":"quantitative","scale":{"domain":[21.77,50.26],"nice":false,"zero":false},"axis":null},"y2":{"datum":21.97}}},
{"mark":{"type":"text","align":"center","baseline":"middle","fontSize":9,"font":"Liberation Sans","color":"#ffb0b0"},"encoding":{"x":{"datum":59.31,"type":"quantitative","scale":{"domain":[-0.7,116.25],"nice":false,"zero":false},"axis":null},"y":{"datum":22.39,"type":"quantitative","scale":{"domain":[21.77,50.26],"nice":false,"zero":false},"axis":null},"text":{"value":"3"}}},
{"mark":{"type":"text","align":"center","baseline":"middle","fontSize":12,"font":"Noto Sans CJK SC","color":"#e0ffff"},"encoding":{"x":{"datum":60.85,"type":"quantitative","scale":{"domain":[-0.7,116.25],"nice":false,"zero":false},"axis":null},"y":{"datum":22.39,"type":"quantitative","scale":{"domain":[21.77,50.26],"nice":false,"zero":false},"axis":null},"text":{"value":"停"}}},
{"mark":{"type":"text","align":"center","baseline":"middle","fontSize":12,"font":"Noto Sans CJK SC","color":"#d0e0ff"},"encoding":{"x":{"datum":69.89,"type":"quantitative","scale":{"domain":[-0.7,116.25],"nice":false,"zero":false},"axis":null},"y":{"datum":22.39,"type":"quantitative","scale":{"domain":[21.77,50.26],"nice":false,"zero":false},"axis":null},"text":{"value":"财"}}},
{"mark":{"type":"text","align":"center","baseline":"middle","fontSize":12,"font":"Noto Sans CJK SC","color":"#d0ffd0"},"encoding":{"x":{"datum":74.98,"type":"quantitative","scale":{"domain":[-0.7,116.25],"nice":false,"zero":false},"axis":null},"y":{"datum":22.39,"type":"quantitative","scale":{"domain":[21.77,50.26],"nice":false,"zero":false},"axis":null},"text":{"value":"跌"}}},
{"mark":{"type":"text","align":"center","baseline":"middle","fontSize":12,"fontWeight":"bold","font":"Liberation Sans","color":"#e03030"},"encoding":{"x":{"datum":99.51,"type":"quantitative","scale":{"domain":[-0.7,116.25],"nice":false,"zero":false},"axis":null},"y":{"datum":22.39,"type":"quantitative","scale":{"domain":[21.77,50.26],"nice":false,"zero":false},"axis":null},"text":{"value":"$"}}}
]
}
